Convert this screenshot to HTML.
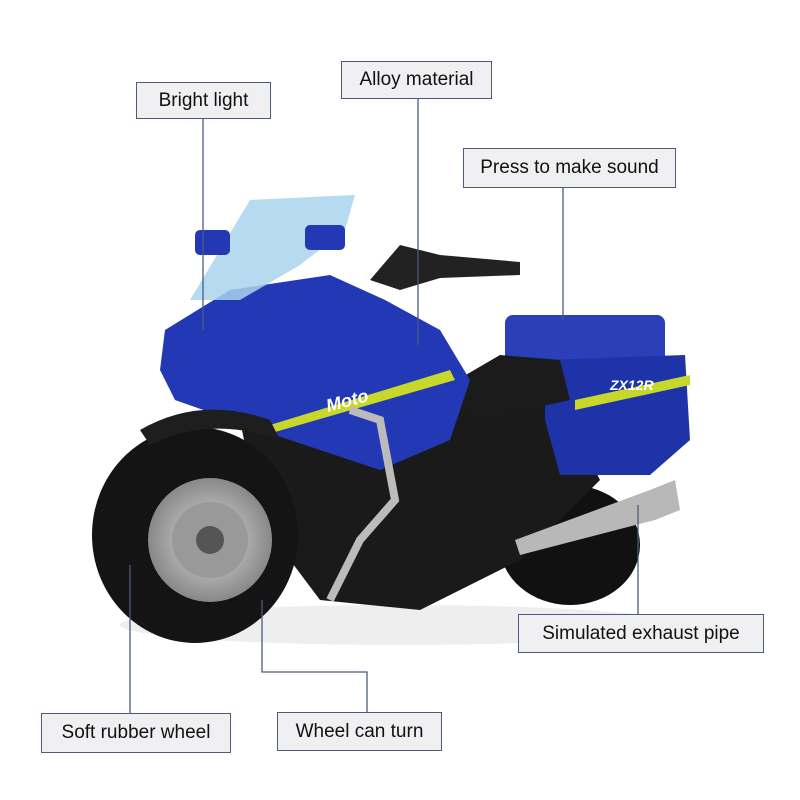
<!DOCTYPE html>
<html><head><style>
body{margin:0;width:800px;height:800px;background:#fff;position:relative;overflow:hidden;font-family:"Liberation Sans",sans-serif}
.b{position:absolute;background:#f0f0f2;border:1.5px solid #4c5a7e;box-sizing:border-box;font-size:19px;color:#111;display:flex;align-items:center;justify-content:center;white-space:nowrap}
svg{position:absolute;left:0;top:0}
</style></head><body>
<svg width="800" height="800">
<defs>
<radialGradient id="g1" cx="50%" cy="50%" r="50%"><stop offset="0" stop-color="#ddd"/><stop offset="1" stop-color="#888"/></radialGradient>
</defs>
<ellipse cx="400" cy="625" rx="280" ry="20" fill="#eee"/>
<ellipse cx="570" cy="545" rx="70" ry="60" fill="#111"/>
<polygon points="240,420 480,380 560,400 600,480 520,560 420,610 320,600 260,520" fill="#1a1a1a"/>
<rect x="505" y="315" width="160" height="50" rx="8" fill="#2a3fb8"/>
<polygon points="545,360 685,355 690,440 650,475 560,475 545,420" fill="#1f33a8"/>
<polygon points="575,400 690,375 690,385 575,410" fill="#c8d82a"/>
<text x="610" y="390" font-family="Liberation Sans" font-size="14" font-style="italic" font-weight="bold" fill="#fff">ZX12R</text>
<polygon points="440,390 500,355 560,360 570,400 480,420" fill="#1b1b1b"/>
<polygon points="165,330 230,290 330,275 385,300 440,330 470,380 450,440 380,470 320,450 260,430 175,400 160,370" fill="#2238b5"/>
<polygon points="270,425 450,370 455,380 275,432" fill="#c8d82a"/>
<text x="328" y="412" font-family="Liberation Sans" font-size="18" font-style="italic" font-weight="bold" fill="#fff" transform="rotate(-15 328 412)">Moto</text>
<polygon points="190,300 250,200 355,195 345,230 300,265 240,300" fill="#a9d4ec" opacity=".85"/>
<rect x="195" y="230" width="35" height="25" rx="5" fill="#2238b5"/>
<rect x="305" y="225" width="40" height="25" rx="5" fill="#2238b5"/>
<polygon points="370,280 400,245 440,255 520,262 520,275 440,278 400,290" fill="#222"/>
<polygon points="515,540 650,490 675,480 680,510 655,520 520,555" fill="#b8b8b8"/>
<path d="M350,410 L380,420 L395,500 L360,540 L330,600" stroke="#bbb" stroke-width="8" fill="none"/>
<ellipse cx="195" cy="535" rx="103" ry="108" fill="#141414"/>
<path d="M140,430 Q200,395 270,420 L280,440 Q210,415 150,445 Z" fill="#1e1e1e"/>
<circle cx="210" cy="540" r="62" fill="url(#g1)"/>
<circle cx="210" cy="540" r="38" fill="#999"/>
<circle cx="210" cy="540" r="14" fill="#555"/>
<g stroke="#4c5a7e" stroke-width="1.3" fill="none">
<line x1="203" y1="118" x2="203" y2="330"/>
<line x1="418" y1="99" x2="418" y2="345"/>
<line x1="563" y1="188" x2="563" y2="320"/>
<line x1="638" y1="505" x2="638" y2="614"/>
<line x1="130" y1="565" x2="130" y2="713"/>
<polyline points="262,600 262,672 367,672 367,712"/>
</g>
</svg>
<div class="b" style="left:136px;top:82px;width:135px;height:37px">Bright light</div>
<div class="b" style="left:341px;top:61px;width:151px;height:38px">Alloy material</div>
<div class="b" style="left:463px;top:148px;width:213px;height:40px">Press to make sound</div>
<div class="b" style="left:518px;top:614px;width:246px;height:39px">Simulated exhaust pipe</div>
<div class="b" style="left:41px;top:713px;width:190px;height:40px">Soft rubber wheel</div>
<div class="b" style="left:277px;top:712px;width:165px;height:39px">Wheel can turn</div>
</body></html>
